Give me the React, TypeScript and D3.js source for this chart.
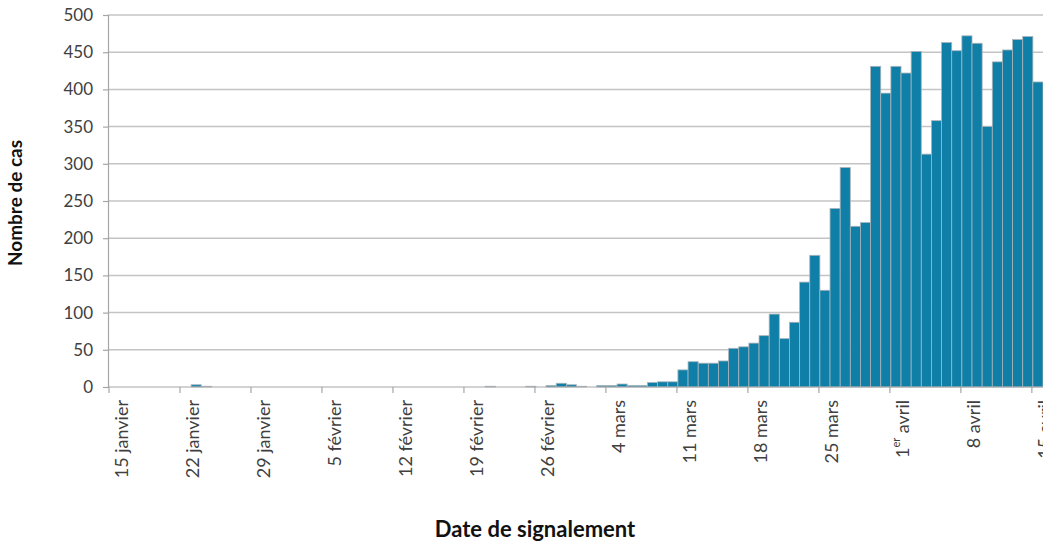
import React, { useEffect, useRef } from "react";
import * as d3 from "d3";

// daily counts from 15 janvier to 15 avril
const cases: number[] = [
  0, 0, 0, 0, 0, 0, 0, 0, 3, 1, // 15-24 jan
  0, 0, 0, 0, 0, 0, 0, 0, 0, 0, // 25 jan - 3 fev
  0, 0, 0, 0, 0, 0, 0, 0, 0, 0, // 4-13 fev
  0, 0, 0, 0, 0, 0, 0, 1, 0, 0, // 14-23 fev
  0, 1, 0, 2, 5, 3, 1, 0, 2, 2, // 24 fev - 4 mars
  4, 2, 2, 6, 7, 7, 23, 34, 32, 32, // 5-14 mars
  35, 52, 54, 59, 69, 98, 65, 87, 141, 177, // 15-24 mars
  130, 240, 295, 216, 221, 431, 395, 431, 422, 451, // 25 mars - 3 avril
  313, 358, 463, 452, 472, 462, 350, 437, 453, 467, // 4-13 avril
  471, 410, // 14-15 avril
];

const tickLabels: string[] = [
  "15 janvier", "22 janvier", "29 janvier", "5 février", "12 février", "19 février",
  "26 février", "4 mars", "11 mars", "18 mars", "25 mars", "1er avril", "8 avril", "15 avril",
];

const yTicks: number[] = [0, 50, 100, 150, 200, 250, 300, 350, 400, 450, 500];

const width = 1043;
const height = 544;
const margin = { top: 15, right: 0, bottom: 157, left: 110 };
const font = "Lato, 'Open Sans', sans-serif";

const App = (): JSX.Element => {
  const ref = useRef<SVGSVGElement>(null);

  useEffect(() => {
    if (!ref.current) return;
    const svg = d3.select(ref.current);
    svg.selectAll("*").remove();

    const idx = cases.map((_, i) => i);
    const x = d3
      .scaleBand<number>()
      .domain(idx)
      .range([margin.left, width - margin.right])
      .padding(0);
    const y = d3
      .scaleLinear()
      .domain([0, 500])
      .range([height - margin.bottom, margin.top]);

    // gridlines
    svg
      .append("g")
      .selectAll("line")
      .data(yTicks.slice(1))
      .join("line")
      .attr("x1", margin.left - 2)
      .attr("x2", width)
      .attr("y1", (d) => y(d))
      .attr("y2", (d) => y(d))
      .attr("stroke", "#c4c4c4")
      .attr("stroke-width", 1.5);

    // bars
    svg
      .append("g")
      .selectAll("rect")
      .data(cases)
      .join("rect")
      .attr("x", (d, i) => x(i) as number)
      .attr("width", x.bandwidth())
      .attr("y", (d) => y(d))
      .attr("height", (d) => y(0) - y(d))
      .attr("fill", (d) => (d > 0 ? "#0f7fa8" : "none"))
      .attr("stroke", (d) => (d > 0 ? "#a9b4ba" : "none"))
      .attr("stroke-width", 0.8);

    // y axis
    const yAxis = svg
      .append("g")
      .attr("transform", `translate(${margin.left - 2},0)`)
      .call(d3.axisLeft(y).tickValues(yTicks).tickSize(5).tickPadding(10));
    yAxis.select(".domain").attr("stroke", "#a6a6a6").attr("stroke-width", 1.2);
    yAxis.selectAll(".tick line").attr("stroke", "#a6a6a6").attr("stroke-width", 1.2);
    yAxis
      .selectAll(".tick text")
      .attr("fill", "#404040")
      .attr("font-family", font)
      .attr("font-size", 17);

    // x axis line
    svg
      .append("line")
      .attr("x1", margin.left - 2)
      .attr("x2", width)
      .attr("y1", y(0))
      .attr("y2", y(0))
      .attr("stroke", "#a6a6a6")
      .attr("stroke-width", 1.2);

    const tickIdx = tickLabels.map((_, k) => k * 7);
    svg
      .append("g")
      .selectAll("line")
      .data(tickIdx)
      .join("line")
      .attr("x1", (i) => (x(i) as number) - 1)
      .attr("x2", (i) => (x(i) as number) - 1)
      .attr("y1", y(0))
      .attr("y2", y(0) + 6)
      .attr("stroke", "#a6a6a6")
      .attr("stroke-width", 1.2);

    const labels = svg
      .append("g")
      .selectAll("text")
      .data(tickIdx)
      .join("text")
      .attr(
        "transform",
        (i) => `translate(${(x(i) as number) + x.bandwidth() / 2 + 6},${y(0) + 13}) rotate(-90)`
      )
      .attr("text-anchor", "end")
      .attr("dominant-baseline", "central")
      .attr("fill", "#404040")
      .attr("font-family", font)
      .attr("font-size", 18);
    labels.each(function (i, k) {
      const t = d3.select(this);
      const lab = tickLabels[k];
      if (lab.startsWith("1er")) {
        t.append("tspan").text("1");
        t.append("tspan").attr("font-size", 11).attr("dy", -7).text("er");
        t.append("tspan").attr("dy", 7).text(" avril");
      } else {
        t.text(lab);
      }
    });

    // axis titles
    svg
      .append("text")
      .attr("transform", `translate(22,${(margin.top + y(0)) / 2 + 2}) rotate(-90)`)
      .attr("text-anchor", "middle")
      .attr("font-family", font)
      .attr("font-weight", "bold")
      .attr("font-size", 19)
      .attr("fill", "#111")
      .text("Nombre de cas");

    svg
      .append("text")
      .attr("x", 535)
      .attr("y", 537)
      .attr("text-anchor", "middle")
      .attr("font-family", font)
      .attr("font-weight", "bold")
      .attr("font-size", 22)
      .attr("fill", "#111")
      .text("Date de signalement");
  }, []);

  return (
    <svg
      ref={ref}
      width={width}
      height={height}
      viewBox={`0 0 ${width} ${height}`}
      style={{ position: "absolute", left: 0, top: 0, background: "#fff" }}
    />
  );
};

export default App;
